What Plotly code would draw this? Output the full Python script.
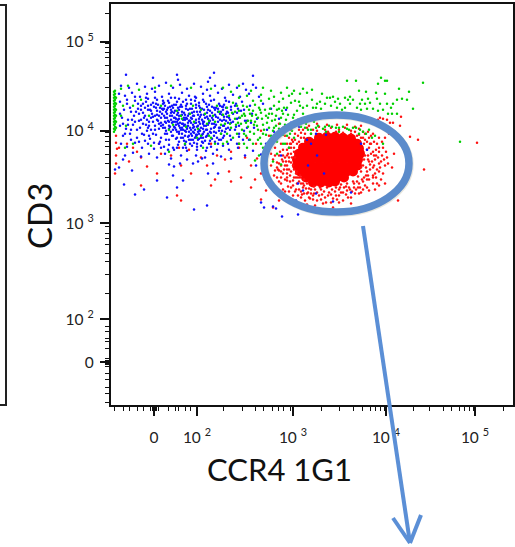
import plotly.graph_objects as go

# Axis values are display channels of the biexponential scale (0..402)
MAJOR_TICKS = [43, 86, 182, 275, 364]
MAJOR_LABELS_X = ["0", "10 <sup>2</sup>", "10 <sup>3</sup>", "10 <sup>4</sup>", "10 <sup>5</sup>"]
MAJOR_LABELS_Y = ["0", "10 <sup>2</sup>", "10 <sup>3</sup>", "10 <sup>4</sup>", "10 <sup>5</sup>"]
MINOR_TICKS = [3, 12, 18, 26, 32, 39, 41, 42, 44, 45, 47, 57, 64, 67, 74, 79,
               112, 131, 144, 152, 161, 167, 172, 179,
               210, 228, 242, 251, 259, 264, 269, 273,
               302, 318, 332, 340, 348, 353, 358, 362, 392]

BLUE = [
 (15,331),(42,328),(66,331),(67,326),(103,333),(99,328),(97,324),(142,330),(142,321),(132,322),(13,221),(33,216),(24,211),(56,208),
 (83,196),(96,200),(46,225),(21,235),(8,238),(12,246),(4,236),(62,230),(107,232),(97,232),(66,218),(72,225),(58,241),(63,239),(69,242),
 (82,242),(87,244),(102,242),(91,247),(171,189),(162,199),(185,205),(153,198),(187,191),(150,203),(165,197),
 (10,320),(18,318),(26,322),(34,319),(41,317),(48,320),(55,323),(62,318),(69,321),(76,317),(83,322),(90,319),(96,316),(104,320),(111,317),(118,321),(126,318),(135,316),(145,318),
 (8,312),(14,310),(21,313),(29,309),(36,312),(44,314),(51,309),(58,312),(64,308),(71,313),(78,310),(85,308),(92,312),(99,310),(107,313),(114,308),(122,311),(129,309),(138,312),(148,309),
 (9,304),(16,302),(24,305),(30,300),(35,304),(40,301),(46,306),(52,302),(57,305),(61,300),(66,304),(70,301),(75,306),(80,302),(84,305),(88,300),(93,304),(98,301),(103,306),(108,302),(112,299),(118,304),(124,300),(131,304),(139,300),(152,302),
 (13,296),(20,294),(27,297),(32,293),(37,296),(41,292),(45,298),(49,294),(53,297),(56,292),(60,296),(63,293),(67,298),(71,294),(74,291),(77,296),(81,293),(85,298),(89,294),(93,291),(97,296),(101,293),(105,298),(110,294),(115,292),(120,296),(126,293),(133,296),(141,292),(160,297),
 (11,288),(17,286),(23,290),(28,285),(33,288),(38,284),(42,289),(46,286),(50,283),(54,288),(57,285),(61,290),(64,284),(68,287),(71,282),(75,288),(78,285),(82,290),(85,283),(88,287),(92,284),(96,289),(99,285),(103,282),(107,288),(111,285),(116,289),(122,284),(128,288),(136,285),(146,287),(168,287),
 (9,280),(15,277),(22,281),(29,278),(35,281),(40,276),(44,280),(48,277),(52,281),(55,275),(59,279),(62,276),(65,281),(68,274),(71,278),(74,275),(77,280),(80,276),(83,273),(86,279),(89,275),(93,280),(96,276),(100,273),(104,279),(108,275),(113,280),(119,276),(125,279),(133,275),(143,278),(156,276),
 (12,270),(19,272),(26,268),(33,271),(39,267),(45,271),(50,268),(54,272),(58,266),(61,270),(65,267),(68,272),(72,268),(75,264),(78,270),(82,266),(85,271),(88,267),(92,263),(95,269),(99,265),(103,270),(108,266),(113,270),(120,266),(128,269),(138,266),
 (10,262),(16,259),(24,263),(31,258),(37,262),(43,257),(48,262),(53,259),(58,261),(63,256),(67,261),(72,258),(76,255),(81,260),(86,256),(90,260),(95,255),(100,259),(106,256),(112,260),(118,256),(127,258),(142,255),
 (14,250),(22,253),(30,249),(38,252),(46,248),(54,252),(60,247),(70,250),(76,246),(85,250),(94,248),(102,252),(110,249),(120,247),(134,250),
 (145,240),(150,251),(155,262),(163,274),(175,296),(180,283),(188,279),(196,266),(200,262),(205,272),(215,271),(187,222),(192,215),(205,212),(222,204),(213,232),(240,213),(250,262),(256,256),(197,240),(206,250),(170,250),
]
BLUE_DENSE = [
 (32,302),(34,298),(37,300),(39,296),(42,303),(43,299),(46,295),(47,301),(49,298),(51,292),(52,296),(54,300),(55,294),(57,298),(58,303),(59,290),
 (60,293),(62,298),(63,288),(64,295),(65,301),(66,291),(67,286),(68,296),(69,283),(70,290),(71,299),(72,286),(73,293),(74,281),(75,297),(76,287),
 (77,283),(78,292),(79,278),(80,288),(81,297),(82,281),(83,290),(84,276),(85,286),(86,294),(87,280),(88,272),(89,289),(90,278),(91,297),(92,282),
 (93,274),(94,288),(95,280),(96,293),(97,272),(98,283),(99,290),(100,277),(101,299),(102,286),(103,274),(104,291),(105,281),(106,268),(107,294),(108,278),
 (109,286),(110,272),(111,291),(112,280),(113,301),(114,274),(115,285),(116,294),(117,278),(118,288),(119,270),(120,283),(122,292),(124,276),(126,287),(128,280),
 (34,290),(36,286),(38,280),(40,288),(42,284),(44,276),(46,291),(48,282),(50,288),(52,278),(54,284),(56,272),(58,280),(60,286),(62,270),(64,278),
 (66,274),(68,280),(70,268),(72,276),(74,270),(76,277),(78,266),(80,272),(82,278),(84,268),(86,262),(88,276),(90,268),(92,272),(94,265),(96,270),
 (62,284),(64,288),(66,284),(68,290),(70,276),(72,282),(74,286),(76,279),(78,274),(80,283),(82,274),(84,283),(86,271),(88,284),(90,291),(92,277),
 (60,274),(58,284),(56,288),(54,278),(66,268),(73,265),(79,262),(83,263),(87,266),(91,264),(25,294),(27,302),(30,286),(26,276),(31,272),(36,275),
 (125,302),(130,295),(134,285),(128,272),(136,278),(140,283),(132,266),(126,262),(117,262),(110,266),(104,264),(98,262),(109,300),(115,305),(100,305),(92,306),
 (84,309),(76,302),(68,307),(60,308),(52,305),(44,308),(37,307),(72,304),(80,306),(88,303),(96,299),(104,296),(112,296),(120,299),(127,297),(75,258),
 (66,258),(57,256),(50,258),(43,263),(38,270),(34,265),(28,264),(20,266),(17,281),(21,286),(19,298),(24,309),(16,306),(12,282),(14,272),(9,292),
 (40,295),(44,290),(47,285),(50,280),(53,290),(55,283),(58,277),(61,283),(63,279),(65,276),(67,282),(69,278),(71,272),(73,280),(75,274),(77,269),(79,285),(81,270),(83,279),(85,269),(87,274),(89,282),(91,271),(93,284),(95,276),(97,281),(99,274),(101,282),(103,278),(105,273),(107,284),(109,278),(111,275),(113,286),(115,277),(117,283),
 (45,302),(48,290),(51,297),(53,303),(56,296),(59,299),(61,294),(63,301),(65,287),(67,293),(69,299),(71,291),(73,288),(75,300),(77,290),(79,297),(81,287),(83,294),(85,301),(87,291),(89,298),(91,286),(93,296),(95,302),(97,287),(99,295),(101,288),(103,298),(105,289),(107,297),(109,292),(111,299),(113,289),(115,298),(117,293),(119,286),
 (62,258),(68,264),(74,261),(80,266),(86,259),(92,268),(96,258),(101,267),(107,262),(112,268),(55,266),(49,264),(42,272),(37,278),(32,282),(28,292),(24,284),(20,276),(30,296),(35,308),
]

GREEN = [
 (4,276),(4,279),(4,282),(4,285),(4,288),(4,291),(4,294),(4,297),(4,300),(4,303),(4,306),(4,309),(4,312),(4,315),(5,278),(5,284),(5,290),(5,296),(5,302),(5,308),
 (3,274),(3,277),(3,281),(3,284),(3,287),(3,290),(3,293),(3,296),(3,299),(3,302),(3,305),(3,308),(3,311),(3,314),
 (236,325),(245,325),(270,328),(274,325),(276,325),(267,322),(312,323),(288,317),(298,314),(248,315),(255,314),(265,313),(274,312),(211,312),(201,316),(192,317),(196,313),(189,312),(183,315),(181,312),
 (291,307),(296,306),(286,306),(282,302),(302,297),(276,302),(269,302),(266,307),(257,307),(251,306),(239,309),(237,306),(234,308),(227,307),(222,309),(219,308),(216,308),(209,304),(206,302),(202,298),
 (196,300),(192,298),(189,300),(239,302),(234,298),(229,302),(226,298),(249,302),(246,298),(254,302),(256,297),(262,297),(267,295),(277,292),(286,292),(281,292),(349,264),
 (10,317),(17,320),(28,316),(44,318),(60,320),(80,318),(100,317),(112,318),(120,314),(128,320),(140,315),(152,318),(160,315),(170,313),(176,318),(150,311),(158,307),(168,304),(180,303),(176,298),(186,295),(172,292),(182,288),(163,300),(150,305),
 (10,290),(12,300),(15,280),(22,300),(30,306),(38,290),(50,300),(58,276),(70,290),(82,300),(90,270),(96,282),(102,290),(106,300),(110,272),(114,282),(116,298),(118,290),(120,278),(122,303),(124,287),(126,272),(128,295),(130,282),(132,300),(134,290),(135,270),(137,279),(138,296),(140,285),(142,305),(143,272),(145,291),(146,280),(148,298),(149,268),(151,287),(153,276),(154,296),(156,283),(158,292),(160,270),(161,285),(163,278),(165,290),(167,272),(169,282),(171,295),(173,276),(175,286),(178,280),(181,275),(184,282),(150,262),(156,254),(160,262),(166,264),(148,250),(142,262),(136,258),(128,262),(116,264),(104,262),(92,258),(74,262),(58,254),(40,260),(22,262),(14,258),(154,242),(162,244),(172,262),(166,252),(144,245),
 (190,279),(197,276),(205,278),(212,277),(218,280),(225,278),(232,279),(238,276),(245,278),(252,274),(258,276),(200,272),(215,274),(228,274),(174,262),(178,258),(170,241),(264,270),(272,262),(183,268),
 (124,294),(127,283),(131,276),(133,292),(136,299),(139,274),(141,290),(144,284),(147,276),(150,293),(152,281),(155,271),(157,288),(159,297),(162,275),(164,286),(166,296),(168,277),(170,288),(172,271),(174,281),(177,291),(179,272),(183,291),(187,286),
 (192,292),(196,288),(201,306),(205,298),(210,297),(214,302),(220,300),(224,304),(231,296),(242,306),(250,296),(259,303),(272,296),(280,298),(128,308),(136,310),(144,301),(163,309),(172,307),(184,305),(188,304),(178,310),(90,296),(98,285),(108,294),
 (62,281),(66,295),(71,287),(75,279),(79,292),(83,284),(87,277),(94,292),(100,268),(104,284),(110,281),(112,291),(116,272),(119,282),(121,293),(125,281),(129,288),(133,272),(137,285),(142,295),
 (126,300),(131,290),(135,283),(139,292),(143,281),(147,288),(149,296),(152,272),(155,290),(158,278),(161,292),(165,280),(168,297),(170,275),(173,298),(176,270),(147,266),(152,258),(158,258),(139,266),(133,262),(122,268),(112,262),(98,270),(86,268),(195,282),(203,284),(188,282),
 (207,280),(214,279),(221,279),(228,278),(236,277),(242,278),(249,276),(194,278),(200,276),(248,272),(255,272),(261,268),
]

RED_CORE = [
 (208,268),(216,269),(224,269),(232,268),(240,267),
 (198,264),(206,263),(214,263),(222,263),(230,263),(238,263),(246,262),
 (192,258),(200,258),(208,258),(216,258),(224,258),(232,258),(240,258),(248,257),
 (188,252),(194,252),(202,252),(210,252),(218,252),(226,252),(234,252),(242,252),(249,252),
 (186,246),(192,246),(200,246),(208,246),(216,246),(224,246),(232,246),(240,246),(247,246),
 (186,240),(192,240),(200,240),(208,240),(216,240),(224,240),(232,240),(240,240),(246,240),
 (189,234),(196,234),(204,234),(212,234),(220,234),(228,234),(236,234),(242,234),
 (195,228),(202,228),(210,228),(218,228),(226,228),(233,228),
 (202,223),(210,223),(218,223),(224,224),
]
RED = [
 (366,263),(307,266),(299,269),(313,236),(287,205),(281,238),(289,280),(282,283),(279,283),(290,289),(269,288),(272,287),(276,286),(267,286),(278,272),(271,264),(283,252),(276,248),(272,232),(262,230),
 (168,250),(162,246),(160,240),(164,235),(170,240),(166,228),(172,232),(176,225),(170,222),(180,218),(176,240),(178,248),(180,234),(183,228),(186,222),(174,214),(182,210),(188,216),(191,211),(197,213),(184,204),(194,205),(202,206),(208,210),(214,208),(220,211),(204,200),(212,202),(220,203),(228,210),(235,211),(232,205),(240,208),(245,216),(250,213),(256,218),(252,224),(258,226),(262,222),(264,216),(268,220),(274,222),
 (172,256),(176,262),(180,258),(183,254),(178,268),(184,272),(190,268),(186,262),(194,272),(196,278),(202,276),(208,279),(214,276),(220,278),(228,276),(234,278),(240,275),(248,277),(254,272),(258,268),(262,272),(266,262),(258,258),(262,254),(268,254),(272,258),(264,246),(258,244),(268,242),(274,240),(262,238),(256,234),(248,222),(238,218),(228,216),(218,213),(200,212),(192,218),(188,224),(182,240),(184,248),(176,232),(170,228),(196,222),(186,234),
 (160,252),(164,258),(170,262),(174,270),(180,276),(252,216),(244,212),(236,215),(226,206),(210,206),(198,208),(190,208),(177,219),(168,235),(166,243),(174,248),(179,224),(255,230),(262,228),(268,234),(260,262),(254,266),(268,268),(274,268),(204,216),(216,218),
 (5,270),(5,263),(6,257),(5,250),(8,258),(16,262),(4,232),(5,242),(22,258),(26,254),(18,244),(30,248),(36,239),(50,252),(68,258),(78,256),(90,248),(100,262),(106,250),(114,246),(120,254),(128,258),(134,248),(140,240),(146,247),(150,232),(154,226),(160,222),(144,226),(130,228),(118,234),(104,226),(96,240),(80,232),(70,240),(60,250),(48,262),(46,232),(30,220),(66,210),(70,205),(100,220),(120,224),(140,218),(155,215),(150,206),(168,205),(162,198),
 (128,262),(136,268),(145,262),(150,275),(158,270),(166,270),(168,282),(172,278),
 (173,236),(175,244),(177,252),(179,262),(181,266),(176,228),(178,236),(171,246),(169,254),(167,236),(163,230),(164,250),(172,216),(178,214),(182,220),(185,216),(187,210),(192,222),(195,217),(199,207),(203,212),(206,205),(211,211),(215,203),(222,207),(224,214),(230,213),(233,218),(237,208),(241,214),(243,222),(247,218),(251,226),(254,220),(257,230),(259,236),(261,244),(263,250),(265,256),(267,248),(269,238),(271,250),(273,246),(275,254),(277,242),(260,270),(263,264),(257,274),(250,280),(244,279),(236,281),(226,281),(216,281),(206,282),(198,280),(188,276),(182,264),(176,256),(185,228),(189,228),(193,212),(180,243),(265,228),(266,222),(258,215),(270,226),(248,212),(196,201),(200,196),(222,198),(228,203),(240,202),
 (250,268),(253,262),(256,256),(254,250),(257,246),(252,240),(250,234),(247,229),(242,224),(236,222),(230,221),(225,218),(210,216),(203,219),(198,217),(193,226),(189,230),(183,236),(181,248),(183,258),(188,264),(193,268),(200,272),(206,275),(217,274),(225,274),(232,273),(240,272),(246,270),(252,274),
 (178,258),(180,252),(178,244),(176,236),(179,230),(182,225),(185,232),(187,228),(190,222),(193,220),(196,212),(200,216),(202,210),(206,213),(209,218),(213,214),(217,210),(221,216),(225,210),(229,218),(232,213),(235,219),(239,216),(243,218),(246,224),(249,218),(253,228),(256,226),(255,238),(259,241),(257,250),(260,252),(259,262),(256,264),(252,268),(248,271),(244,274),(250,238),(253,246),(263,240),(266,236),(264,232),(270,244),(268,258),(265,250),(174,240),(172,244),(170,234),(168,242),(174,226),(168,224),(180,262),(184,266),(187,270),(190,273),(192,276),(176,250),(172,250),(166,238),(184,214),(190,214),
]

def split(pairs):
    return [p[0] for p in pairs], [p[1] for p in pairs]

fig = go.Figure()
W, H = 515, 547
ML, MR, MT, MB = 111, 2, 4, 142
DOT = 2.5

x, y = split(RED_CORE)
fig.add_trace(go.Scatter(x=x, y=y, mode="markers", marker=dict(color="#ff0000", size=10, line_width=0), hoverinfo="skip", showlegend=False))
x, y = split(RED)
fig.add_trace(go.Scatter(x=x, y=y, mode="markers", marker=dict(color="#ff1010", size=DOT, line_width=0), showlegend=False))
x, y = split(BLUE + BLUE_DENSE)
fig.add_trace(go.Scatter(x=x, y=y, mode="markers", marker=dict(color="#1010ff", size=DOT, line_width=0), showlegend=False))
x, y = split(GREEN)
fig.add_trace(go.Scatter(x=x, y=y, mode="markers", marker=dict(color="#00d000", size=DOT, line_width=0), showlegend=False))

def px(v):
    return (v - ML) / (W - ML - MR)
def py(v):
    return (H - MB - v) / (H - MT - MB)

shapes = [
    dict(type="circle", xref="paper", yref="paper", x0=px(265), x1=px(410), y0=py(213), y1=py(116), layer="above",
         line=dict(color="rgba(190,185,160,0.35)", width=7.5)),
    dict(type="circle", xref="paper", yref="paper", x0=px(264), x1=px(409), y0=py(212), y1=py(115), layer="above",
         line=dict(color="#5b8bcb", width=7.5)),
    dict(type="line", xref="paper", yref="paper", x0=px(363), y0=py(226), x1=px(410), y1=py(543), layer="above", line=dict(color="#5b8fd6", width=4)),
    dict(type="line", xref="paper", yref="paper", x0=px(393), y0=py(518), x1=px(410), y1=py(543), layer="above", line=dict(color="#5b8fd6", width=4)),
    dict(type="line", xref="paper", yref="paper", x0=px(421), y0=py(515), x1=px(410), y1=py(543), layer="above", line=dict(color="#5b8fd6", width=4)),
    dict(type="path", xref="paper", yref="paper",
         path=f"M {px(0)} {py(5)} L {px(6)} {py(5)} L {px(6)} {py(405)} L {px(0)} {py(405)}",
         line=dict(color="#222222", width=2)),
]

annotations = [
    dict(text="CCR4 1G1", xref="paper", yref="paper", x=px(279), y=py(469), showarrow=False, xanchor="center", yanchor="middle",
         font=dict(family="Lato", size=31, color="#111111")),
    dict(text="CD3", xref="paper", yref="paper", x=px(39), y=py(216), showarrow=False, xanchor="center", yanchor="middle", textangle=-90,
         font=dict(family="Lato", size=33, color="#111111")),
]

axis_common = dict(range=[0, 402], tickmode="array", tickvals=MAJOR_TICKS, ticks="outside", ticklen=9, tickwidth=1.5,
                   tickcolor="#111111", showgrid=False, zeroline=False, showline=True, linewidth=2.4, linecolor="#111111",
                   mirror=True, tickfont=dict(family="Lato", size=15.5, color="#222222"),
                   minor=dict(tickmode="array", tickvals=MINOR_TICKS, ticks="outside", ticklen=4, tickwidth=1.3, tickcolor="#111111", showgrid=False))

fig.update_layout(
    width=W, height=H, margin=dict(l=ML, r=MR, t=MT, b=MB, autoexpand=False), paper_bgcolor="white", plot_bgcolor="white",
    shapes=shapes, annotations=annotations,
    xaxis=dict(ticktext=MAJOR_LABELS_X, ticklabelstandoff=8, **axis_common),
    yaxis=dict(ticktext=MAJOR_LABELS_Y, ticklabelstandoff=3, **axis_common),
)
fig.write_html("out.html", config=dict(displayModeBar=False), post_script="document.body.style.margin='0';")
